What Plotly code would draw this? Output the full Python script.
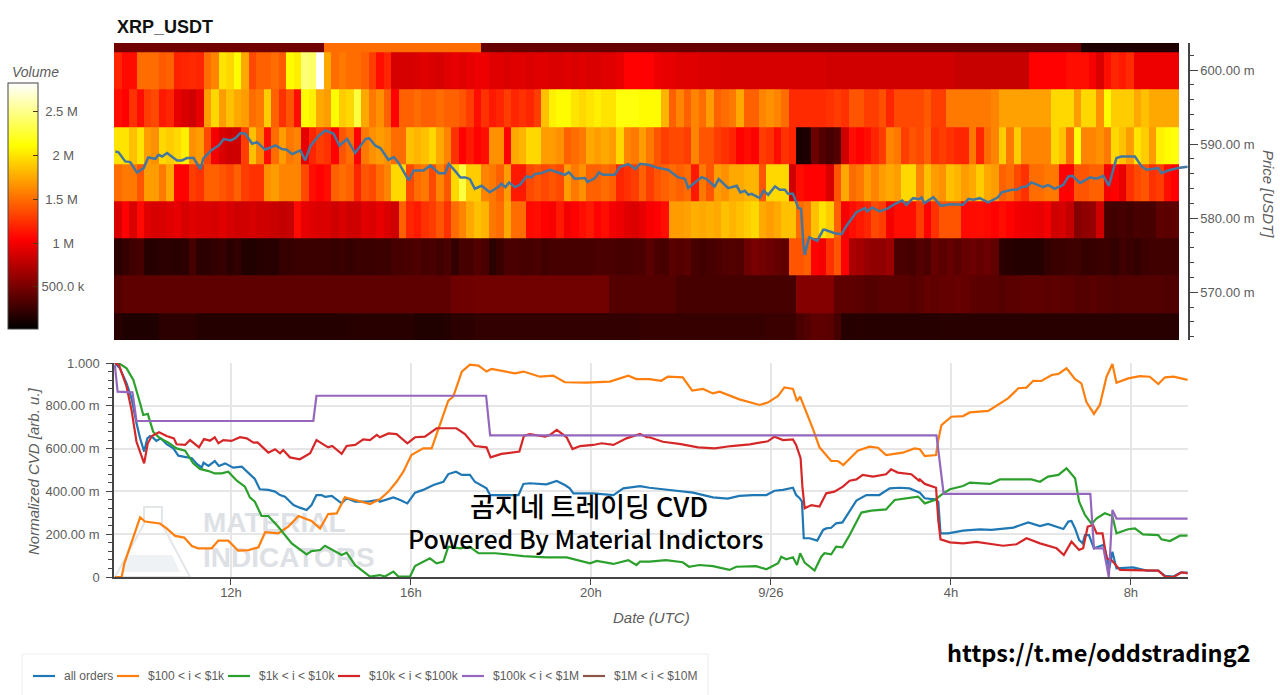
import pandas as pd
import plotly.graph_objects as go
from plotly.subplots import make_subplots

DAY = pd.Timestamp("2024-09-25")

# Volume per price bin, in millions, one value per 10 minute column
price_levels = [604.9, 599.9, 594.8, 589.8, 584.8, 579.8, 574.8, 569.7, 564.7]

vol_605 = [0.47] * 28 + [1.5] * 21 + [0.43] * 80 + [0.14] * 13
vol_600 = [
    1.2, 1.08, 1.1, 1.5, 1.5, 1.5, 1.42, 1.45, 1.18, 1.2,
    1.22, 1.2, 1.5, 1.6, 2.0, 1.95, 2.1, 1.75, 1.35, 1.45,
    1.45, 1.5, 1.42, 2.1, 2.05, 2.45, 2.4, 2.83, 1.75, 1.5,
    1.55, 1.5, 1.5, 1.45, 1.3, 1.1, 1.2, .88, .88, .88,
    .9, .92, .9, .88, .92, .95, .92, .95, .98, .98,
    .92, .92, .9, .92, .92, .9, .92, .92, .9, .9,
    .92, .9, .92, .9, .9, .92, .92, .95, 1.05, 1.05,
    1.05, 1.05, .98, .95, .95, .92, .92, .92, .9, .9,
    .9, .88, .88, .88, .88, .88, .88, .88, .88, .88,
    .88, .88, .88, .88, .88, .86, .86, .86, .86, .86,
    .86, .86, .86, .86, .86, .86, .86, .86, .86, .86,
    .86, .86, .82, .82, .82, .82, .82, .82, .82, .82,
    .82, .82, 1.05, 1.05, 1.05, 1.05, 1.05, 1.1, 1.1, 1.1,
    1.02, .9, 1.1, 1.2, 1.15, 1.22, .98, .98, .98, .98, .98, .98,
]
vol_595 = [
    1.1, 1.05, 1.25, 1.1, 1.3, 1.35, 1.15, 1.2, .95, .9,
    .85, .95, 1.7, 1.95, 1.7, 1.85, 1.75, 1.7, 1.5, 1.55,
    1.9, 1.45, 1.25, 1.4, 1.1, 2.1, 2.05, 1.75, 1.7, 2.1,
    1.9, 1.95, 2.3, 1.75, 1.55, 1.65, 1.45, 1.05, 1.45, 1.45,
    1.5, 1.45, 1.45, 1.5, 1.45, 1.45, 1.4, 1.3, 1.1, 1.25,
    1.15, 1.2, 1.3, 1.2, 1.25, 1.2, 1.3, 1.85, 2.05, 2.1,
    2.1, 2.0, 1.95, 2.0, 2.05, 2.0, 2.0, 2.15, 2.15, 2.15,
    2.1, 2.1, 2.1, 1.8, 1.45, 1.6, 1.45, 1.6, 1.5, 1.7,
    1.45, 1.5, 1.55, 1.75, 1.45, 1.45, 1.6, 1.65, 1.6, 1.5,
    1.22, 1.22, 1.22, 1.22, 1.22, 1.25, 1.3, 1.25, 1.4, 1.4,
    1.3, 1.3, 1.38, 1.2, 1.35, 1.35, 1.35, 1.35, 1.42, 1.3,
    1.3, 1.55, 1.55, 1.55, 1.55, 1.55, 1.55, 1.6, 1.72, 1.72,
    1.72, 1.72, 1.72, 1.72, 1.72, 1.95, 1.95, 1.95, 1.7, 1.95,
    1.95, 1.65, 2.1, 1.9, 1.9, 1.9, 1.75, 1.85, 1.75, 1.75, 1.75, 1.75,
]
vol_590 = [
    2.0, 2.0, 1.85, 2.0, 1.7, 1.65, 1.95, 1.9, 1.95, 2.05,
    1.65, 1.7, 1.35, 1.0, .9, .85, .85, 1.3, 1.85, 1.6,
    1.1, 1.5, 1.7, 1.55, 1.6, .95, 1.2, 1.3, 1.25, 1.05,
    1.4, 1.5, 1.05, 1.55, 1.65, 1.7, 1.65, 1.5, 1.5, 1.85,
    1.8, 1.85, 1.95, 1.75, 1.6, 1.25, 1.05, 1.15, 1.05, 1.1,
    1.65, 1.65, 1.05, 1.75, 1.8, 1.95, 1.95, 1.7, 1.7, 1.65,
    1.45, 1.5, 1.55, 1.75, 1.7, 1.75, 1.7, 1.95, 1.6, 1.55,
    1.7, 1.55, 1.4, 1.3, 1.35, 1.35, 1.3, 1.6, 1.4, 1.4,
    1.3, 1.25, 1.2, 1.05, 1.1, 1.05, 1.3, 1.25, 1.1, 1.25,
    1.2, .12, .14, .45, .35, .3, .35, .85, 1.1, 1.05,
    1.1, 1.2, 1.3, 1.6, 1.55, 1.3, 1.4, 1.35, 1.45, 1.25,
    1.3, 1.25, 1.2, 1.2, 1.55, 1.2, 1.5, 1.6, 1.9, 1.55,
    1.9, 1.6, 1.6, 1.6, 1.6, 1.95, 1.85, 1.5, 2.15, 1.6,
    1.6, 1.65, 1.55, 1.95, 1.85, 1.7, 2.0, 1.9, 1.7, 2.05, 2.1, 2.15,
]
vol_585 = [
    1.5, 1.55, 1.55, 1.4, 1.7, 1.7, 1.55, 1.75, 1.05, 1.05,
    1.3, 1.25, 1.45, 1.45, 1.4, 1.35, 1.45, 1.3, 1.25, 1.25,
    1.65, 1.7, 1.6, 1.6, 1.6, 1.35, 1.1, 1.05, 1.1, 1.45,
    1.5, 1.45, 1.2, 1.4, 1.35, 1.5, 1.6, 1.95, 1.95, 1.35,
    1.5, 1.55, 1.35, 1.6, 1.4, 1.95, 2.3, 1.9, 1.9, 1.6,
    1.55, 1.45, 1.7, 1.15, 1.15, 1.35, 1.4, 1.35, 1.4, 1.35,
    1.7, 1.55, 1.65, 1.45, 1.45, 1.5, 1.45, 1.2, 1.25, 1.3,
    1.45, 1.3, 1.4, 1.45, 1.5, 1.45, 1.5, 1.15, 1.55, 1.4,
    1.7, 1.65, 1.75, 1.75, 1.8, 1.8, 1.4, 1.95, 1.95, 1.95,
    .85, 1.1, 1.05, 1.05, 1.05, .9, 1.4, 1.75, 1.5, 1.55,
    1.7, 1.6, 1.7, 1.75, 1.7, 1.95, 1.95, 1.6, 1.85, 1.7,
    1.65, 1.85, 1.8, 1.7, 1.75, 1.9, 1.75, 1.7, 1.45, 1.5,
    1.35, 1.25, 1.5, 1.5, 1.55, 1.55, 1.05, 1.05, 1.4, 1.4,
    1.45, 1.45, 1.0, 1.05, .95, 1.25, 1.35, 1.4, 1.25, 1.3, 1.1, 1.05,
]
vol_580 = [
    .9, 1.05, .9, 1.08, .92, .88, .9, .92, .95, .88,
    .92, .9, .9, .88, .92, .88, .85, .86, .88, .85,
    .85, .82, .8, .82, 1.08, .95, .92, .9, .9, .85,
    .9, .85, .85, .92, .9, .95, .9, .85, 1.45, 1.2,
    1.15, 1.25, 1.3, 1.4, 1.25, 1.5, 1.6, 1.75, 1.85, 1.8,
    1.55, 1.5, 1.75, 1.5, 1.5, 1.08, 1.1, 1.05, 1.02, 1.15,
    1.0, 1.05, 1.1, 1.15, 1.05, 1.1, 1.0, .98, .92, .9,
    .95, 1.02, 1.05, 1.1, 1.7, 1.7, 1.72, 1.78, 1.75, 1.78,
    1.75, 1.85, 1.8, 1.85, 1.9, 1.95, 1.75, 1.7, 1.75, 1.85,
    1.85, 1.5, 1.55, 1.85, 2.0, 1.9, 1.45, 1.02, 1.1, 1.15,
    1.2, 1.35, 1.3, 1.0, 1.1, 1.1, 1.1, 1.3, 1.05, 1.25,
    1.4, 1.4, 1.4, 1.08, 1.1, 1.1, 1.08, 1.05, 1.1, 1.05,
    1.0, .98, .98, .95, 1.0, .85, .88, .8, .55, .6,
    .62, .85, .3, .28, .3, .28, .32, .3, .3, .4, .38, .4,
]
vol_575 = [
    .2, .24, .28, .3, .17, .17, .2, .2, .18, .2,
    .3, .2, .2, .22, .24, .2, .22, .15, .15, .17,
    .18, .17, .24, .24, .25, .25, .25, .25, .25, .24,
    .25, .24, .25, .25, .25, .26, .25, .3, .3, .32,
    .33, .3, .32, .28, .32, .22, .3, .3, .35, .32,
    .2, .25, .32, .32, .3, .3, .32, .28, .3, .3,
    .3, .3, .3, .3, .32, .32, .32, .3, .3, .32,
    .32, .38, .32, .3, .38, .36, .38, .3, .28, .3,
    .32, .34, .35, .34, .45, .5, .48, .45, .42, .4,
    1.4, 1.4, 1.45, 1.05, 1.0, 1.25, 1.4, 1.05, .7, .68,
    .62, .6, .6, .65, .32, .32, .3, .35, .32, .42,
    .38, .42, .38, .42, .45, .42, .45, .4, .2, .18,
    .16, .16, .16, .16, .22, .25, .25, .27, .27, .24,
    .24, .25, .25, .22, .28, .25, .22, .26, .28, .28, .28, .28,
]
vol_570 = [
    .36, .4, .4, .4, .4, .4, .4, .4, .4, .4,
    .4, .4, .4, .4, .4, .4, .4, .4, .4, .4,
    .4, .4, .4, .4, .4, .4, .4, .4, .4, .4,
    .4, .4, .4, .4, .4, .4, .4, .4, .4, .4,
    .4, .4, .4, .4, .4, .46, .46, .46, .47, .47,
    .47, .47, .47, .47, .47, .47, .47, .47, .47, .47,
    .47, .47, .47, .47, .47, .47, .36, .36, .36, .36,
    .36, .36, .36, .36, .36, .3, .3, .3, .3, .3,
    .3, .3, .3, .3, .3, .3, .3, .3, .3, .3,
    .3, .55, .55, .55, .55, .55, .4, .4, .4, .38,
    .36, .36, .38, .38, .38, .38, .36, .38, .42, .4,
    .42, .42, .44, .42, .4, .38, .38, .38, .36, .38,
    .38, .4, .4, .4, .38, .4, .38, .38, .36, .36,
    .38, .36, .36, .34, .35, .35, .35, .35, .35, .36, .33, .34,
]
vol_565 = [
    .18, .14, .14, .14, .14, .14, .2, .2, .2, .2,
    .2, .16, .16, .16, .16, .16, .16, .16, .16, .16,
    .16, .16, .16, .16, .16, .16, .16, .16, .16, .16,
    .17, .17, .18, .18, .18, .18, .18, .18, .18, .18,
    .15, .15, .15, .15, .16, .2, .2, .2, .22, .22,
    .22, .22, .22, .22, .22, .22, .22, .22, .22, .22,
    .22, .22, .22, .22, .22, .22, .22, .22, .22, .22,
    .24, .24, .24, .24, .24, .24, .24, .24, .24, .24,
    .24, .24, .24, .24, .24, .24, .24, .25, .25, .25,
    .25, .32, .35, .4, .4, .38, .3, .17, .17, .18,
    .17, .17, .17, .17, .17, .17, .17, .17, .17, .17,
    .18, .18, .18, .18, .18, .18, .18, .18, .18, .18,
    .18, .18, .18, .18, .18, .18, .18, .18, .18, .18,
    .18, .18, .18, .18, .18, .18, .18, .18, .18, .18, .18, .18,
]

# Price line, hours since 9/25 00:00 and price in USDT
price_h = [
    9.43, 9.5, 9.65, 9.76, 9.91, 10.06, 10.16, 10.32, 10.39, 10.47, 10.58, 10.8, 10.91, 11.02, 11.17, 11.32,
    11.39, 11.58, 11.73, 11.84, 11.99, 12.1, 12.21, 12.32, 12.47, 12.58, 12.76, 12.99, 13.13, 13.24, 13.36,
    13.54, 13.65, 13.76, 13.95, 14.1, 14.28, 14.41, 14.58, 14.76, 14.99, 15.07, 15.21, 15.32, 15.5, 15.62,
    15.73, 15.95, 16.06, 16.28, 16.43, 16.62, 16.76, 16.84, 16.99, 17.1, 17.21, 17.31, 17.42, 17.57, 17.75,
    17.94, 18.01, 18.1, 18.18, 18.31, 18.42, 18.57, 18.68, 18.75, 18.9, 19.09, 19.27, 19.42, 19.51, 19.64,
    19.87, 19.92, 20.09, 20.18, 20.27, 20.53, 20.64, 20.83, 20.99, 21.09, 21.27, 21.5, 21.71, 21.94, 22.09,
    22.16, 22.46, 22.57, 22.75, 22.84, 23.05, 23.24, 23.32, 23.42, 23.5, 23.57, 23.75, 23.84, 23.94, 24.09,
    24.2, 24.31, 24.38, 24.49, 24.61, 24.67, 24.72, 24.75, 24.85, 25.03, 25.16, 25.2, 25.42, 25.57, 25.68,
    25.9, 26.09, 26.14, 26.25, 26.42, 26.61, 26.76, 26.92, 27.01, 27.16, 27.3, 27.35, 27.41, 27.61, 27.78,
    27.98, 28.27, 28.39, 28.5, 28.64, 28.83, 29.04, 29.13, 29.35, 29.46, 29.57, 29.68, 29.79, 30.05, 30.16,
    30.31, 30.5, 30.61, 30.7, 30.87, 31.09, 31.24, 31.39, 31.51, 31.68, 31.79, 32.09, 32.24, 32.35, 32.61,
    32.68, 32.83, 33.05, 33.2, 33.26,
]
price_v = [
    589.0, 588.9, 587.66, 587.57, 586.17, 586.76, 588.2, 588.02, 588.56, 588.33, 588.79, 587.8, 587.8, 588.11, 588.11, 586.62,
    588.11, 589.24, 589.82, 590.68, 590.5, 590.81, 591.49, 591.4, 590.05, 590.27, 589.24, 589.82, 589.33, 589.24, 588.65,
    589.15, 587.8, 589.69, 591.13, 591.85, 591.4, 589.78, 590.68, 588.79, 590.68, 590.81, 589.78, 589.46, 587.88, 588.25,
    587.43, 585.09, 586.44, 586.44, 587.12, 586.08, 586.08, 587.34, 586.31, 585.5, 585.5, 585.27, 583.97, 584.37, 583.5,
    584.19, 584.64, 584.19, 584.82, 584.19, 584.5, 585.63, 585.5, 585.95, 586.08, 586.53, 586.17, 585.86, 586.22, 585.32,
    585.41, 584.87, 585.41, 586.17, 585.86, 585.86, 586.89, 587.3, 586.62, 587.34, 587.21, 586.76, 586.53, 585.5, 585.32,
    584.06, 585.54, 585.27, 584.28, 585.27, 584.06, 584.37, 583.47, 583.7, 583.15, 583.29, 582.7, 583.74, 583.15, 584.28,
    583.83, 583.83, 583.29, 583.29, 581.35, 581.26, 576.62, 575.05, 577.43, 576.94, 578.43, 578.43, 577.97, 577.84, 578.97,
    580.81, 581.35, 580.9, 581.44, 580.9, 581.35, 581.94, 582.39, 581.8, 582.7, 582.57, 582.79, 582.03, 582.84, 581.67,
    581.89, 581.8, 582.61, 582.48, 582.7, 582.12, 582.79, 583.5, 583.83, 583.83, 584.19, 584.28, 584.82, 584.19, 584.5,
    583.97, 584.5, 585.63, 585.72, 584.73, 585.5, 585.32, 585.72, 584.37, 588.11, 588.33, 588.33, 586.98, 586.53, 586.76,
    586.08, 586.44, 586.76, 586.89, 586.95,
]

# Normalized CVD per order size
all_orders_h = [
    9.42, 9.53, 9.68, 9.79, 9.9, 9.98, 10.07, 10.14, 10.2, 10.27, 10.34, 10.44, 10.57, 10.72, 10.83, 11.01,
    11.13, 11.24, 11.35, 11.39, 11.5, 11.64, 11.73, 11.87, 12.05, 12.24, 12.39, 12.53, 12.64, 12.83, 12.98,
    13.09, 13.2, 13.39, 13.53, 13.68, 13.79, 13.9, 14.01, 14.09, 14.24, 14.46, 14.57, 14.76, 15.05, 15.27,
    15.31, 15.61, 15.76, 15.92, 16.09, 16.27, 16.5, 16.72, 16.83, 17.0, 17.13, 17.31, 17.42, 17.61, 17.68,
    17.76, 18.39, 18.5, 18.64, 19.01, 19.24, 19.42, 19.53, 19.61, 20.05, 20.5, 20.72, 21.09, 21.24, 21.3,
    21.6, 22.0, 22.27, 22.71, 23.04, 23.3, 23.6, 23.9, 24.08, 24.27, 24.49, 24.56, 24.64, 24.69, 24.73,
    24.86, 25.03, 25.16, 25.23, 25.34, 25.45, 25.59, 25.75, 25.9, 26.12, 26.41, 26.64, 26.86, 27.08, 27.23,
    27.31, 27.42, 27.64, 27.72, 27.77, 27.94, 28.27, 28.64, 28.9, 29.39, 29.72, 29.98, 30.16, 30.5, 30.61,
    30.68, 30.76, 30.85, 30.93, 30.98, 31.07, 31.18, 31.39, 31.44, 31.52, 31.59, 31.68, 32.05, 32.35, 32.61,
    32.76, 32.95, 33.1, 33.26,
]
all_orders_v = [
    1.0, .975, .905, .835, .718, .648, .586, .648, .659, .651, .636, .648, .621, .601, .567, .559,
    .555, .528, .512, .534, .519, .542, .519, .531, .511, .516, .484, .458, .41, .407, .399,
    .383, .375, .336, .324, .313, .336, .383, .383, .375, .379, .344, .368, .352, .352, .36,
    .352, .372, .36, .344, .394, .407, .43, .445, .481, .492, .477, .477, .445, .422, .414,
    .383, .383, .435, .438, .433, .449, .43, .414, .391, .391, .383, .414, .425, .417, .417,
    .41, .399, .394, .372, .366, .379, .383, .383, .403, .407, .417, .383, .368, .352, .181,
    .181, .17, .22, .227, .23, .251, .255, .305, .357, .383, .383, .414, .417, .414, .399,
    .394, .368, .363, .352, .204, .204, .217, .223, .22, .231, .255, .238, .248, .224, .259,
    .262, .227, .173, .157, .196, .196, .134, .15, .118, .04, .118, .04, .045, .03, .03,
    .005, .002, .02, .02,
]
orders_1k_h = [
    9.42, 9.57, 9.63, 9.79, 9.98, 10.09, 10.27, 10.42, 10.57, 10.76, 10.96, 11.13, 11.27, 11.57, 11.72, 11.94,
    12.16, 12.39, 12.61, 12.76, 13.05, 13.27, 13.5, 13.79, 13.98, 14.16, 14.35, 14.53, 14.76, 15.09, 15.27,
    15.31, 15.5, 15.68, 15.83, 16.01, 16.27, 16.46, 16.64, 16.83, 16.94, 17.13, 17.31, 17.5, 17.68, 17.79,
    18.31, 18.5, 18.87, 19.16, 19.42, 19.9, 20.42, 20.83, 21.01, 21.27, 21.3, 21.56, 21.71, 22.04, 22.25,
    22.49, 22.71, 22.86, 23.3, 23.75, 23.93, 24.16, 24.3, 24.49, 24.58, 24.65, 24.93, 25.08, 25.34, 25.49,
    25.61, 25.93, 26.19, 26.38, 26.56, 26.93, 27.19, 27.31, 27.42, 27.67, 27.72, 27.79, 28.01, 28.27, 28.42,
    28.83, 29.09, 29.27, 29.5, 29.68, 29.83, 30.01, 30.24, 30.39, 30.57, 30.76, 30.9, 31.01, 31.18, 31.31,
    31.46, 31.59, 31.68, 31.94, 32.2, 32.42, 32.61, 32.76, 32.95, 33.26,
]
orders_1k_v = [
    0, 0, .064, .165, .279, .259, .255, .25, .227, .192, .184, .145, .134, .134, .17, .17,
    .123, .126, .139, .209, .204, .235, .285, .262, .227, .294, .297, .372, .36, .341, .36,
    .363, .399, .445, .492, .57, .601, .601, .71, .824, .843, .96, .992, .988, .96, .972,
    .952, .96, .936, .941, .91, .908, .913, .941, .925, .928, .925, .917, .936, .933, .871,
    .879, .858, .866, .83, .804, .815, .846, .886, .879, .822, .843, .695, .606, .542, .542,
    .523, .59, .609, .604, .57, .581, .601, .597, .565, .57, .64, .71, .749, .752, .769,
    .776, .812, .835, .882, .885, .917, .916, .944, .949, .975, .924, .905, .819, .762, .804,
    .936, .995, .908, .928, .939, .936, .902, .933, .936, .921,
]
orders_10k_h = [
    9.42, 9.5, 9.68, 9.83, 9.98, 10.05, 10.15, 10.27, 10.42, 10.61, 10.79, 10.98, 11.16, 11.31, 11.5, 11.64,
    11.79, 11.94, 12.13, 12.31, 12.42, 12.53, 12.68, 12.83, 13.05, 13.35, 13.68, 13.79, 13.98, 14.09, 14.46,
    14.57, 14.76, 15.09, 15.31, 15.42, 15.61, 15.72, 15.98, 16.09, 16.42, 16.57, 16.72, 16.83, 17.09, 17.3,
    17.5, 17.87, 18.5, 19.01, 19.46, 19.98, 20.13, 20.5, 20.83, 21.01, 21.09, 21.3, 21.67, 22.04, 22.18,
    22.41, 22.71, 23.08, 23.23, 23.67, 23.9, 24.16, 24.23, 24.34, 24.49, 24.58, 24.65, 24.75, 24.97, 25.12,
    25.19, 25.34, 25.45, 25.59, 25.75, 26.01, 26.23, 26.41, 26.56, 26.75, 27.01, 27.27, 27.31, 27.42, 27.64,
    27.83, 27.98, 28.27, 28.42, 28.87, 29.09, 29.53, 29.79, 29.98, 30.16, 30.39, 30.57, 30.76, 30.85, 30.98,
    31.13, 31.24, 31.42, 31.59, 31.68, 31.94, 32.09, 32.27, 32.61, 32.68, 32.87, 33.09, 33.26,
]
orders_10k_v = [
    1.0, 1.0, .975, .921, .812, .757, .762, .679, .648, .628, .601, .59, .531, .505, .495, .484,
    .484, .492, .45, .422, .372, .352, .285, .285, .235, .157, .106, .121, .126, .146, .103,
    .114, .055, .002, .009, .002, .025, .002, .002, .051, .087, .064, .072, .142, .134, .142,
    .111, .111, .098, .092, .092, .064, .075, .061, .079, .056, .072, .072, .079, .069, .048,
    .056, .051, .033, .048, .051, .036, .064, .095, .083, .092, .056, .111, .067, .03, .095,
    .111, .106, .142, .139, .196, .301, .31, .313, .316, .36, .368, .375, .368, .344, .36,
    .391, .41, .425, .441, .435, .456, .456, .456, .445, .469, .477, .508, .461, .352, .29,
    .248, .274, .298, .285, .204, .223, .227, .199, .196, .176, .168, .193, .193,
]
orders_100k_h = [
    9.42, 9.51, 9.68, 9.79, 9.9, 10.01, 10.07, 10.15, 10.24, 10.4, 10.57, 10.73, 10.79, 10.98, 11.09, 11.29,
    11.4, 11.53, 11.64, 11.72, 11.83, 12.01, 12.2, 12.35, 12.5, 12.59, 12.83, 12.98, 13.09, 13.16, 13.31,
    13.53, 13.76, 13.9, 14.16, 14.25, 14.46, 14.57, 14.76, 14.94, 15.09, 15.24, 15.31, 15.5, 15.68, 15.92,
    16.09, 16.31, 16.57, 16.87, 17.01, 17.2, 17.42, 17.68, 17.77, 18.01, 18.41, 18.51, 18.64, 18.98, 19.09,
    19.24, 19.46, 19.59, 19.76, 20.05, 20.24, 20.5, 20.79, 21.09, 21.24, 21.3, 21.6, 22.0, 22.38, 22.75,
    23.12, 23.53, 23.93, 24.08, 24.27, 24.49, 24.56, 24.66, 24.7, 24.75, 24.9, 25.08, 25.23, 25.41, 25.6,
    25.75, 25.9, 26.04, 26.27, 26.56, 26.67, 26.82, 27.12, 27.29, 27.31, 27.42, 27.67, 27.72, 27.77, 27.98,
    28.27, 28.57, 29.16, 29.46, 29.68, 29.98, 30.35, 30.51, 30.68, 30.85, 30.94, 31.04, 31.16, 31.24, 31.37,
    31.46, 31.57, 31.76, 32.05, 32.35, 32.61, 32.76, 32.95, 33.13, 33.26,
]
orders_100k_v = [
    1.0, .991, .889, .78, .632, .562, .531, .625, .659, .676, .659, .648, .62, .617, .64, .606,
    .645, .637, .653, .625, .64, .636, .653, .648, .628, .629, .581, .597, .578, .593, .559,
    .55, .578, .64, .606, .612, .575, .612, .617, .643, .64, .664, .653, .671, .668, .625,
    .653, .656, .695, .695, .695, .668, .612, .606, .559, .575, .586, .659, .668, .656, .664,
    .687, .653, .598, .612, .617, .625, .617, .648, .668, .653, .653, .632, .621, .606, .601,
    .612, .62, .634, .656, .64, .643, .617, .555, .422, .321, .336, .329, .391, .399, .422,
    .45, .456, .477, .469, .48, .503, .488, .48, .45, .456, .435, .417, .266, .176, .162,
    .157, .164, .146, .153, .181, .157, .134, .103, .165, .126, .134, .235, .243, .204, .204,
    .087, .079, .033, .033, .03, .03, .002, 0, .022, .017,
]
orders_1m_h = [9.42, 9.48, 9.81, 9.9, 13.83, 13.9, 17.67, 17.76, 27.68, 27.84, 31.1, 31.18, 31.39, 31.51, 31.59, 31.68, 33.26]
orders_1m_v = [.99, .866, .863, .729, .729, .847, .847, .662, .662, .388, .388, .134, .134, 0, .313, .273, .273]

cvd_series = [
    ("all orders", all_orders_h, all_orders_v, "#1f77b4"),
    ("$100 &lt; i &lt; $1k", orders_1k_h, orders_1k_v, "#ff7f0e"),
    ("$1k &lt; i &lt; $10k", orders_10k_h, orders_10k_v, "#2ca02c"),
    ("$10k &lt; i &lt; $100k", orders_100k_h, orders_100k_v, "#d62728"),
    ("$100k &lt; i &lt; $1M", orders_1m_h, orders_1m_v, "#9467bd"),
]

# the legend of the reference has tighter keys than plotly's own can get
legend_names = [
    "all orders", "$100 &lt; i &lt; $1k", "$1k &lt; i &lt; $10k",
    "$10k &lt; i &lt; $100k", "$100k &lt; i &lt; $1M", "$1M &lt; i &lt; $10M",
]
legend_colors = ["#1f77b4", "#ff7f0e", "#2ca02c", "#d62728", "#9467bd", "#8c564b"]
legend_key_px = [33, 117, 228, 338, 462, 583]

time_tick_hours = [12, 16, 20, 24, 28, 32]
time_tick_labels = ["12h", "16h", "20h", "9/26", "4h", "8h"]
price_ticks = [570, 580, 590, 600]
price_tick_labels = ["570.00 m", "580.00 m", "590.00 m", "600.00 m"]
cvd_ticks = [0, 0.2, 0.4, 0.6, 0.8, 1.0]
cvd_tick_labels = ["0", "200.00 m", "400.00 m", "600.00 m", "800.00 m", "1.000"]
volume_ticks = [0.5, 1, 1.5, 2, 2.5]
volume_tick_labels = ["500.0 k", "\u00a0\u00a0\u00a01 M", "\u00a01.5 M", "\u00a0\u00a0\u00a02 M", "\u00a02.5 M"]

GRAY = "#5c5c5c"
AXIS = "#444444"
GRID = "#e6e6e6"
FONT = "Liberation Sans"
KR_FONT = "Noto Sans CJK KR"


def to_time(hours):
    return DAY + pd.to_timedelta(hours, unit="h")


# pixel helpers for the decorations that sit outside the data
def px_x(px):
    return (px - 114) / 1074


def px_y(py):
    return (577 - py) / 534


fig = make_subplots(rows=2, cols=1, shared_xaxes=True)

heat_x = pd.date_range(to_time(9.4) + pd.Timedelta(minutes=5), periods=len(vol_600), freq="10min")
fig.add_trace(go.Heatmap(
    x=heat_x,
    y=price_levels,
    z=[vol_605, vol_600, vol_595, vol_590, vol_585, vol_580, vol_575, vol_570, vol_565],
    zmin=0.017,
    zmax=2.83,
    colorscale=[[0, "#000000"], [0.365, "#ff0000"], [0.746, "#ffff00"], [1, "#ffffff"]],
    colorbar=dict(
        x=px_x(8), y=px_y(329), xanchor="left", yanchor="bottom",
        lenmode="pixels", len=246, thickness=30, xpad=0, ypad=0,
        outlinecolor=AXIS, outlinewidth=1,
        tickmode="array", tickvals=volume_ticks, ticktext=volume_tick_labels,
        ticks="inside", ticklen=5, tickcolor="#553300", tickwidth=1,
        tickfont=dict(family=FONT, size=13, color=GRAY),
    ),
), row=1, col=1)
fig.add_trace(go.Scatter(
    x=to_time(price_h), y=price_v, mode="lines",
    line=dict(color="#44779f", width=2.5), showlegend=False,
), row=1, col=1)

# watermark goes first so that the lines stay on top of it
fig.add_trace(go.Scatter(
    x=[to_time(9.4 + (203 - 114) / 45)] * 2, y=[0.245, 0.08], mode="text",
    text=["MATERIAL", "INDICATORS"], textposition="middle right",
    textfont=dict(family=FONT, size=28, color="#dde1e5", weight="bold"),
    showlegend=False,
), row=2, col=1)
for name, hours, values, color in cvd_series:
    fig.add_trace(go.Scatter(
        x=to_time(hours), y=values, mode="lines", name=name,
        line=dict(color=color, width=2.2), showlegend=False,
    ), row=2, col=1)

x_range = [to_time(9.4), to_time(33.27)]
fig.update_xaxes(range=x_range, type="date", showgrid=False, showticklabels=False, ticks="", row=1, col=1)
fig.update_xaxes(
    range=x_range, type="date", showgrid=True, gridcolor=GRID, gridwidth=1.5,
    tickmode="array", tickvals=to_time(time_tick_hours), ticktext=time_tick_labels,
    ticks="outside", ticklen=6, tickcolor=AXIS, showline=True, linecolor=AXIS, linewidth=1.5,
    ticklabelstandoff=-3,
    tickfont=dict(family=FONT, size=13, color=GRAY),
    automargin=False, row=2, col=1,
)
fig.update_yaxes(
    domain=[(577 - 340) / 534, 1], range=[563.55, 603.65], side="right", showgrid=False, zeroline=False,
    tickmode="array", tickvals=price_ticks, ticktext=price_tick_labels,
    ticks="outside", ticklen=8, tickcolor=AXIS, showline=True, linecolor=AXIS, linewidth=1.5,
    minor=dict(dtick=2, ticks="outside", ticklen=4, tickcolor=AXIS, showgrid=False),
    tickfont=dict(family=FONT, size=13, color=GRAY),
    automargin=False, row=1, col=1,
)
fig.update_yaxes(
    domain=[0, 214 / 534], range=[0, 1], showgrid=True, gridcolor=GRID, gridwidth=1.5, zeroline=False,
    tickmode="array", tickvals=cvd_ticks, ticktext=cvd_tick_labels,
    ticks="outside", ticklen=6, tickcolor=AXIS, showline=True, linecolor=AXIS, linewidth=1.5,
    minor=dict(dtick=0.04, ticks="outside", ticklen=4, tickcolor=AXIS, showgrid=False),
    ticklabelstandoff=4,
    tickfont=dict(family=FONT, size=13, color=GRAY),
    automargin=False, row=2, col=1,
)

# flask of the watermark and the frame around the legend
flask = "M {} {} L {} {} L {} {} L {} {} L {} {} L {} {} Z".format(
    px_x(144), px_y(507), px_x(144), px_y(524), px_x(115), px_y(577),
    px_x(190), px_y(577), px_x(162), px_y(524), px_x(162), px_y(507),
)
liquid = "M {} {} L {} {} L {} {} L {} {} Z".format(
    px_x(127), px_y(555), px_x(123), px_y(572), px_x(180), px_y(572), px_x(172), px_y(555),
)
shapes = [
    dict(type="path", path=flask, xref="paper", yref="paper", layer="below",
         line=dict(color="#e3e6e9", width=2)),
    dict(type="path", path=liquid, xref="paper", yref="paper", layer="below",
         fillcolor="#eef2f4", line=dict(width=0)),
    dict(type="rect", xref="paper", yref="paper", x0=px_x(22), x1=px_x(708), y0=px_y(654), y1=px_y(700),
         line=dict(color="#eeeeee", width=1)),
]


def text_note(text, px, py, size, family=KR_FONT, anchor="center", color="#000000", weight=500, angle=0):
    return dict(
        text=text, xref="paper", yref="paper", x=px_x(px), y=px_y(py), textangle=angle,
        xanchor=anchor, yanchor="middle", showarrow=False,
        font=dict(family=family, size=size, color=color, weight=weight),
    )


notes = [
    text_note("XRP_USDT", 115, 27, 18, family=FONT, anchor="left", color="#111111", weight="bold"),
    text_note("곰지네 트레이딩 CVD", 589, 505, 27),
    text_note("Powered By Material Indictors", 586, 538, 25),
    text_note("https://t.me/oddstrading2", 1099, 652, 23.5, weight=700),
    text_note("<i>Volume</i>", 10, 72, 14, family=FONT, anchor="left", color=GRAY, weight=400),
    text_note("<i>Date (UTC)</i>", 651, 617, 15, family=FONT, color=GRAY, weight=400),
    text_note("<i>Normalized CVD [arb. u.]</i>", 33, 471, 15, family=FONT, color=GRAY, weight=400, angle=-90),
    text_note("<i>Price [USDT]</i>", 1269, 194, 15, family=FONT, color=GRAY, weight=400, angle=90),
]
for name, color, key_px in zip(legend_names, legend_colors, legend_key_px):
    shapes.append(dict(type="line", xref="paper", yref="paper", x0=px_x(key_px), x1=px_x(key_px + 22),
                       y0=px_y(676), y1=px_y(676), line=dict(color=color, width=2.2)))
    notes.append(text_note(name, key_px + 29, 676, 12, family=FONT, anchor="left", color=GRAY, weight=400))

fig.update_layout(
    width=1280,
    height=695,
    margin=dict(l=114, r=92, t=43, b=118, autoexpand=False),
    paper_bgcolor="white",
    plot_bgcolor="white",
    font=dict(family=FONT, color=GRAY),
    showlegend=False,
    shapes=shapes,
    annotations=notes,
)

fig.write_html(
    "out.html",
    config={"displayModeBar": False},
    post_script="document.body.style.margin='0';document.body.style.overflow='hidden';",
)
